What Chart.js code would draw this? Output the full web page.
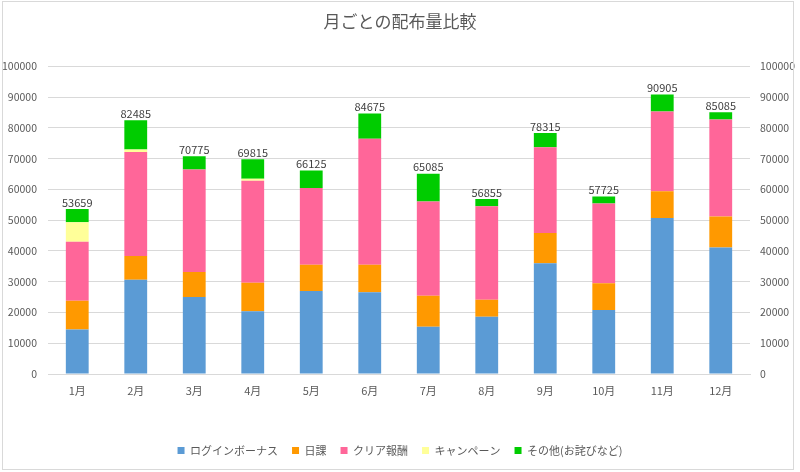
<!DOCTYPE html>
<html lang="ja">
<head>
<meta charset="utf-8">
<title>月ごとの配布量比較</title>
<script src="https://cdn.jsdelivr.net/npm/chart.js@4.4.1/dist/chart.umd.min.js"></script>
<style>
    html, body { margin: 0; padding: 0; background: #ffffff; }
    #wrap { position: relative; width: 800px; height: 472px; }
    #frame {
        position: absolute; left: 2px; top: 1px; width: 790px; height: 467px;
        border: 1px solid #d9d9d9; pointer-events: none;
    }
</style>
</head>
<body>
<div id="wrap">
    <canvas id="chart" width="800" height="472"></canvas>
    <div id="frame"></div>
</div>
<script>
// 月ラベル
const months = ['1月', '2月', '3月', '4月', '5月', '6月', '7月', '8月', '9月', '10月', '11月', '12月'];

// 系列ごとの配布量
const loginBonus = [14500, 30600, 25000, 20400, 27000, 26600, 15400, 18600, 36000, 20800, 50700, 41100];
const dailyTask  = [9300, 7800, 8200, 9300, 8500, 8900, 10000, 5500, 9800, 8700, 8700, 10100];
const clearReward = [19200, 33800, 33300, 33100, 25000, 41000, 30700, 30400, 27900, 25900, 25900, 31500];
const campaign   = [6300, 800, 0, 700, 0, 0, 0, 0, 0, 0, 0, 0];
const others     = [4359, 9485, 4275, 6315, 5625, 8175, 8985, 2355, 4615, 2325, 5605, 2385];

// 軸の目盛り
const axisMin = 0;
const axisMax = 100000;
const axisStep = 10000;

const FONT = "'Noto Sans CJK JP', 'Noto Sans', sans-serif";
const TEXT_COLOR = '#595959';
const GRID_COLOR = '#d9d9d9';

// 積み上げ合計を棒の上に描く
const totalLabels = {
    id: 'totalLabels',
    afterDatasetsDraw: function(chart) {
        const ctx = chart.ctx;
        const xScale = chart.scales.x;
        const yScale = chart.scales.y;
        ctx.save();
        ctx.font = '11px ' + FONT;
        ctx.fillStyle = '#404040';
        ctx.textAlign = 'center';
        ctx.textBaseline = 'bottom';
        months.forEach((m, i) => {
            const total = loginBonus[i] + dailyTask[i] + clearReward[i] + campaign[i] + others[i];
            const x = xScale.getPixelForValue(i);
            const y = yScale.getPixelForValue(total);
            ctx.fillText(String(total), x, y - 1);
        });
        ctx.restore();
    }
};

// カンマなしの目盛り
const plainTick = function(value) { return String(value); };

const ctx = document.getElementById('chart').getContext('2d');

new Chart(ctx, {
    type: 'bar',
    data: {
        labels: months,
        datasets: [
            { label: 'ログインボーナス', data: loginBonus, backgroundColor: '#5b9bd5' },
            { label: '日課', data: dailyTask, backgroundColor: '#ff9900' },
            { label: 'クリア報酬', data: clearReward, backgroundColor: '#ff6699' },
            { label: 'キャンペーン', data: campaign, backgroundColor: '#ffff99' },
            { label: 'その他(お詫びなど)', data: others, backgroundColor: '#00cc00' }
        ]
    },
    options: {
        responsive: false,
        animation: false,
        maintainAspectRatio: false,
        datasets: {
            bar: {
                barPercentage: 1,
                categoryPercentage: 0.39,
                borderWidth: 0
            }
        },
        layout: {
            padding: { left: 0, right: 0, top: 0, bottom: 6 }
        },
        plugins: {
            title: {
                display: true,
                text: '月ごとの配布量比較',
                color: TEXT_COLOR,
                font: { family: FONT, size: 17, weight: 'normal' },
                padding: { top: 11, bottom: 35 }
            },
            legend: {
                position: 'bottom',
                labels: {
                    color: TEXT_COLOR,
                    font: { family: FONT, size: 11 },
                    boxWidth: 7,
                    boxHeight: 7,
                    padding: 14
                }
            },
            tooltip: { enabled: false }
        },
        scales: {
            x: {
                stacked: true,
                grid: { display: false, drawTicks: false },
                border: { display: true, color: GRID_COLOR },
                ticks: {
                    color: TEXT_COLOR,
                    font: { family: FONT, size: 11 },
                    padding: 10,
                    maxRotation: 0
                },
                afterFit: function(scale) { scale.height = 57; }
            },
            y: {
                stacked: true,
                position: 'left',
                min: axisMin,
                max: axisMax,
                grid: { color: GRID_COLOR, drawTicks: false },
                border: { display: false },
                ticks: {
                    stepSize: axisStep,
                    color: TEXT_COLOR,
                    font: { family: FONT, size: 10.5 },
                    padding: 11,
                    callback: plainTick
                },
                afterFit: function(scale) { scale.width = 48; }
            },
            y1: {
                position: 'right',
                min: axisMin,
                max: axisMax,
                grid: { drawOnChartArea: false, drawTicks: false },
                border: { display: false },
                ticks: {
                    stepSize: axisStep,
                    color: TEXT_COLOR,
                    font: { family: FONT, size: 10.5 },
                    padding: 10,
                    callback: plainTick
                },
                afterFit: function(scale) { scale.width = 50; }
            }
        }
    },
    plugins: [totalLabels]
});
</script>
</body>
</html>
